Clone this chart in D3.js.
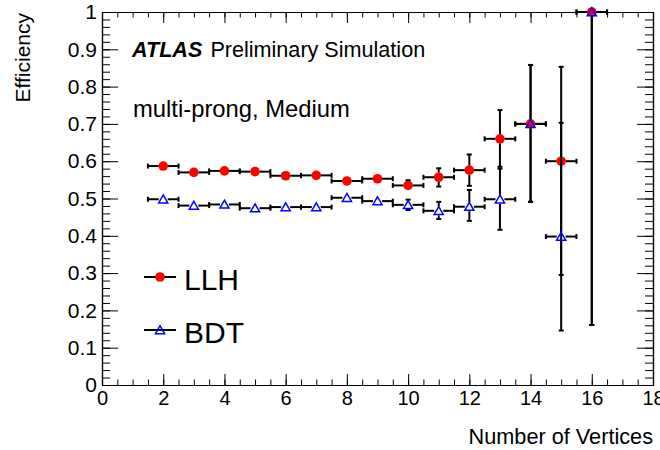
<!DOCTYPE html>
<html>
<head>
<meta charset="utf-8">
<script src="https://cdn.jsdelivr.net/npm/d3@7"></script>
<style>
  html, body { margin: 0; padding: 0; background: #fff; }
  svg { display: block; font-family: "Liberation Sans", Arial, Helvetica, sans-serif; }
</style>
</head>
<body>
<svg id="chart" width="660" height="450"></svg>
<script>
// Number of reconstructed vertices (bin centres)
const vertices = [2, 3, 4, 5, 6, 7, 8, 9, 10, 11, 12, 13, 14, 15, 16];

// LLH efficiency with asymmetric uncertainties
const llhEff  = [0.587, 0.570, 0.574, 0.572, 0.561, 0.562, 0.547, 0.553, 0.535, 0.557, 0.576, 0.660, 0.700, 0.600, 1.000];
const llhErrLo = [0.006, 0.006, 0.006, 0.007, 0.008, 0.009, 0.009, 0.011, 0.012, 0.025, 0.042, 0.075, 0.209, 0.305, 0.839];
const llhErrHi = [0.006, 0.006, 0.006, 0.007, 0.008, 0.009, 0.009, 0.011, 0.014, 0.024, 0.042, 0.077, 0.158, 0.253, 0.000];

// BDT efficiency with asymmetric uncertainties
const bdtEff  = [0.498, 0.481, 0.484, 0.474, 0.477, 0.477, 0.502, 0.493, 0.483, 0.467, 0.478, 0.498, 0.700, 0.398, 1.000];
const bdtErrLo = [0.006, 0.006, 0.006, 0.007, 0.008, 0.009, 0.009, 0.011, 0.014, 0.022, 0.038, 0.082, 0.209, 0.252, 0.839];
const bdtErrHi = [0.006, 0.006, 0.006, 0.007, 0.008, 0.009, 0.009, 0.011, 0.014, 0.024, 0.045, 0.082, 0.158, 0.305, 0.000];

// Half bin width on the x axis
const binHalfWidth = 0.5;

// Axis ticks
const xMajorTicks = [0, 2, 4, 6, 8, 10, 12, 14, 16, 18];
const yMajorTicks = [0, 0.1, 0.2, 0.3, 0.4, 0.5, 0.6, 0.7, 0.8, 0.9, 1];
const yTickLabels = ["0", "0.1", "0.2", "0.3", "0.4", "0.5", "0.6", "0.7", "0.8", "0.9", "1"];

const svg = d3.select("#chart");
const frameL = 102, frameR = 653, frameT = 12, frameB = 385;

const x = d3.scaleLinear().domain([0, 18]).range([frameL, frameR]);
const y = d3.scaleLinear().domain([0, 1]).range([frameB, frameT]);

const xMinor = d3.range(0, 18.001, 0.5);
const yMinor = d3.range(0, 1.0001, 0.02);

function styleAxis(g) {
  g.selectAll("path.domain").attr("stroke", "#000").attr("stroke-width", 1.2);
  g.selectAll(".tick line").attr("stroke", "#000").attr("stroke-width", 1);
  g.selectAll("text").attr("fill", "#000").attr("font-family", "Liberation Sans, Arial, sans-serif");
}

// Bottom axis
svg.append("g").attr("transform", `translate(0,${frameB})`)
  .call(d3.axisBottom(x).tickValues(xMinor).tickSize(-5.5).tickSizeOuter(0).tickFormat(""))
  .call(styleAxis);
svg.append("g").attr("transform", `translate(0,${frameB})`)
  .call(d3.axisBottom(x).tickValues(xMajorTicks).tickSize(-11).tickSizeOuter(0).tickPadding(6).tickFormat(d3.format("d")))
  .call(styleAxis)
  .call(g => g.selectAll("text").attr("font-size", 20));

// Top axis (mirror, no labels)
svg.append("g").attr("transform", `translate(0,${frameT})`)
  .call(d3.axisTop(x).tickValues(xMinor).tickSize(-5.5).tickSizeOuter(0).tickFormat(""))
  .call(styleAxis);
svg.append("g").attr("transform", `translate(0,${frameT})`)
  .call(d3.axisTop(x).tickValues(xMajorTicks).tickSize(-11).tickSizeOuter(0).tickFormat(""))
  .call(styleAxis);

// Left axis
svg.append("g").attr("transform", `translate(${frameL},0)`)
  .call(d3.axisLeft(y).tickValues(yMinor).tickSize(-8).tickSizeOuter(0).tickFormat(""))
  .call(styleAxis);
svg.append("g").attr("transform", `translate(${frameL},0)`)
  .call(d3.axisLeft(y).tickValues(yMajorTicks).tickSize(-16).tickSizeOuter(0).tickPadding(5)
        .tickFormat((d, i) => yTickLabels[i]))
  .call(styleAxis)
  .call(g => g.selectAll("text").attr("font-size", 21));

// Right axis (mirror, no labels)
svg.append("g").attr("transform", `translate(${frameR},0)`)
  .call(d3.axisRight(y).tickValues(yMinor).tickSize(-8).tickSizeOuter(0).tickFormat(""))
  .call(styleAxis);
svg.append("g").attr("transform", `translate(${frameR},0)`)
  .call(d3.axisRight(y).tickValues(yMajorTicks).tickSize(-16).tickSizeOuter(0).tickFormat(""))
  .call(styleAxis);

// Axis titles
svg.append("text")
  .attr("x", frameR).attr("y", 444)
  .attr("text-anchor", "end")
  .attr("font-size", 21.7)
  .text("Number of Vertices");

svg.append("text")
  .attr("transform", `translate(30,${frameT + 1}) rotate(-90)`)
  .attr("text-anchor", "end")
  .attr("font-size", 21)
  .text("Efficiency");

// Labels inside the frame
const atlas = svg.append("text").attr("x", 132).attr("y", 57).attr("font-size", 21.6);
atlas.append("tspan").attr("font-weight", "bold").attr("font-style", "italic").text("ATLAS");
atlas.append("tspan").attr("dx", 8).text("Preliminary Simulation");

svg.append("text").attr("x", 133).attr("y", 117).attr("font-size", 23.8)
  .text("multi-prong, Medium");

// Error bars and markers
const markerHalf = 4.5;
const cap = 2.5;

function drawSeries(eff, errLo, errHi, drawMarker) {
  const g = svg.append("g");
  const pts = vertices.map((v, i) => ({ v, e: eff[i], lo: errLo[i], hi: errHi[i] }));
  const bars = g.append("g").attr("stroke", "#000").attr("stroke-width", 2).attr("fill", "none");
  pts.forEach(p => {
    const cx = x(p.v), cy = y(p.e);
    const xl = x(p.v - binHalfWidth), xr = x(p.v + binHalfWidth);
    // horizontal bar, split around the marker
    bars.append("line").attr("x1", xl).attr("x2", cx - markerHalf).attr("y1", cy).attr("y2", cy);
    bars.append("line").attr("x1", cx + markerHalf).attr("x2", xr).attr("y1", cy).attr("y2", cy);
    bars.append("line").attr("x1", xl).attr("x2", xl).attr("y1", cy - cap).attr("y2", cy + cap);
    bars.append("line").attr("x1", xr).attr("x2", xr).attr("y1", cy - cap).attr("y2", cy + cap);
    // vertical bar above and below
    const yt = y(p.e + p.hi), yb = y(p.e - p.lo);
    if (cy - yt > markerHalf) {
      bars.append("line").attr("x1", cx).attr("x2", cx).attr("y1", yt).attr("y2", cy - markerHalf);
      bars.append("line").attr("x1", cx - cap).attr("x2", cx + cap).attr("y1", yt).attr("y2", yt);
    }
    if (yb - cy > markerHalf) {
      bars.append("line").attr("x1", cx).attr("x2", cx).attr("y1", cy + markerHalf).attr("y2", yb);
      bars.append("line").attr("x1", cx - cap).attr("x2", cx + cap).attr("y1", yb).attr("y2", yb);
    }
  });
  pts.forEach(p => drawMarker(g, x(p.v), y(p.e)));
}

function circleMarker(g, cx, cy) {
  g.append("circle").attr("cx", cx).attr("cy", cy).attr("r", 4.8).attr("fill", "#ff0000");
}
const triPath = d3.symbol().type(d3.symbolTriangle).size(36);
function triangleMarker(g, cx, cy) {
  g.append("path").attr("d", triPath()).attr("transform", `translate(${cx},${cy + 1})`)
    .attr("fill", "none").attr("stroke", "#0000ff").attr("stroke-width", 1.5);
}

drawSeries(llhEff, llhErrLo, llhErrHi, circleMarker);
drawSeries(bdtEff, bdtErrLo, bdtErrHi, triangleMarker);

// Legend
const legend = [
  { name: "LLH", marker: circleMarker, yPos: 277 },
  { name: "BDT", marker: triangleMarker, yPos: 330 }
];
legend.forEach(l => {
  svg.append("line").attr("x1", 144).attr("x2", 176).attr("y1", l.yPos).attr("y2", l.yPos)
    .attr("stroke", "#000").attr("stroke-width", 2);
  l.marker(svg, 160, l.yPos);
  svg.append("text").attr("x", 184).attr("y", l.yPos + 12.5).attr("font-size", 30).text(l.name);
});
</script>
</body>
</html>
